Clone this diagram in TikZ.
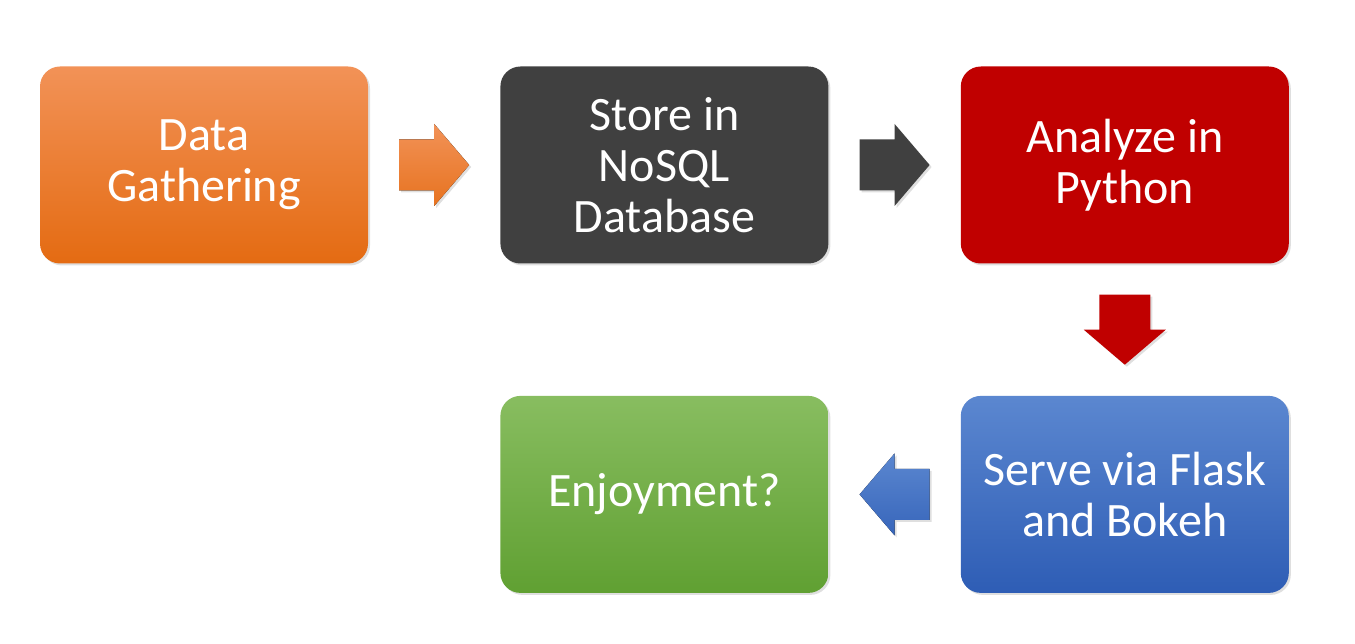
\documentclass[tikz,border=0pt]{standalone}
\usepackage{fontspec}
\setmainfont{Carlito}
\usetikzlibrary{positioning,calc,shadows}

\definecolor{orangetop}{HTML}{F29257}
\definecolor{orangebot}{HTML}{E46B12}
\definecolor{darkgray}{HTML}{404040}
\definecolor{darkred}{HTML}{C00000}
\definecolor{bluetop}{HTML}{5B87D0}
\definecolor{bluebot}{HTML}{2E5DB5}
\definecolor{greentop}{HTML}{88BD60}
\definecolor{greenbot}{HTML}{60A032}

\tikzset{
  stage/.style={rounded corners=20pt, minimum width=328pt, minimum height=197pt,
    inner sep=0pt, align=center, text=white,
    font=\fontsize{48}{51}\selectfont,
    drop shadow={opacity=0.25, shadow xshift=2pt, shadow yshift=-2pt}},
  blockarrow/.pic={
    \fill[pic actions, drop shadow={opacity=0.25, shadow xshift=2pt, shadow yshift=-2pt}]
      (-35,-25.5) -- (0,-25.5) -- (0,-41) -- (35,0) -- (0,41) -- (0,25.5) -- (-35,25.5) -- cycle;
  }
}

\begin{document}
\begin{tikzpicture}[x=1pt,y=-1pt,node distance=132pt]
\useasboundingbox (0,0) rectangle (1355,644);

\node[stage, top color=orangetop, bottom color=orangebot] (gather) at (204,165) {Data\\Gathering};
\node[stage, fill=darkgray, right=of gather] (store) {Store in\\NoSQL\\Database};
\node[stage, fill=darkred, right=of store] (analyze) {Analyze in\\Python};
\node[stage, top color=bluetop, bottom color=bluebot, below=of analyze] (serve) {Serve via Flask\\and Bokeh};
\node[stage, top color=greentop, bottom color=greenbot, left=of serve] (enjoy) {Enjoyment?};

% block arrows between stages
\pic[top color=orangetop, bottom color=orangebot!80!orangetop] at ($(gather.east)!0.5!(store.west)$) {blockarrow};
\pic[fill=darkgray] at ($(store.east)!0.5!(analyze.west)$) {blockarrow};
\pic[fill=darkred, rotate=-90] at ($(analyze.south)!0.5!(serve.north)$) {blockarrow};
\pic[top color=bluetop, bottom color=bluebot!80!bluetop, rotate=180] at ($(serve.west)!0.5!(enjoy.east)$) {blockarrow};

\end{tikzpicture}
\end{document}
